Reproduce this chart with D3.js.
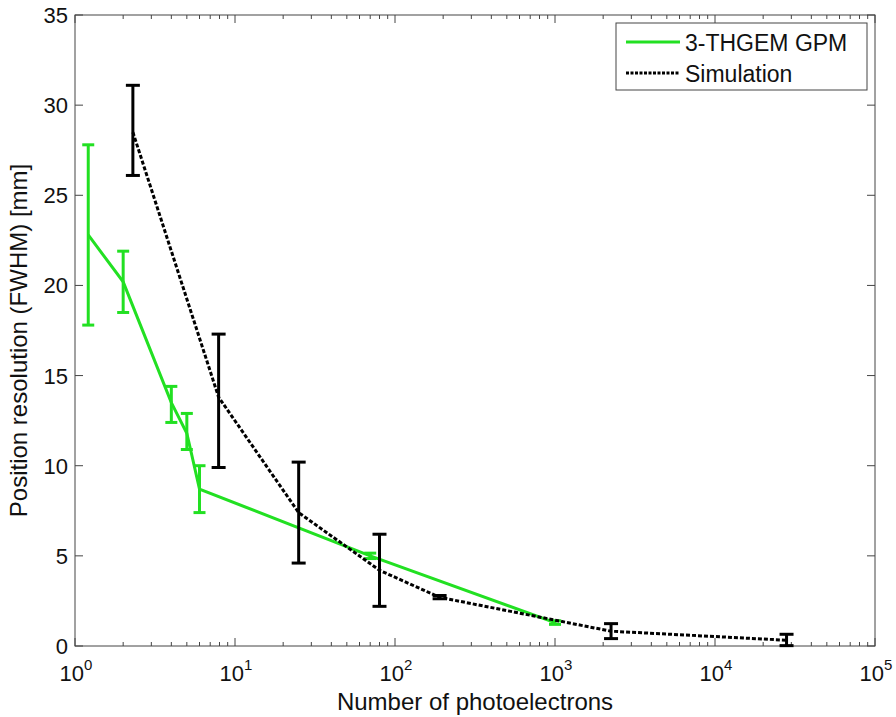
<!DOCTYPE html>
<html>
<head>
<meta charset="utf-8">
<script src="https://cdn.jsdelivr.net/npm/d3@7"></script>
<style>
  body { margin: 0; background: #fff; }
  text { font-family: "Liberation Sans", Arial, sans-serif; }
</style>
</head>
<body>
<div id="chart"></div>
<script>
// measured data
var gpmN   = [1.21, 2.0, 4.0, 5.0, 6.0, 70, 1000];
var gpmRes = [22.8, 20.2, 13.5, 11.8, 8.7, 5.0, 1.3];
var gpmLo  = [17.8, 18.5, 12.4, 10.9, 7.4, 4.85, 1.2];
var gpmHi  = [27.8, 21.9, 14.4, 12.9, 10.0, 5.15, 1.4];

// simulation
var simN   = [2.3, 7.9, 25, 80, 190, 2240, 28000];
var simRes = [28.5, 13.8, 7.4, 4.2, 2.7, 0.82, 0.32];
var simLo  = [26.1, 9.9, 4.6, 2.2, 2.62, 0.41, 0.02];
var simHi  = [31.1, 17.3, 10.2, 6.2, 2.8, 1.24, 0.65];

var yTicks = [0, 5, 10, 15, 20, 25, 30, 35];
var xDecades = [0, 1, 2, 3, 4, 5];

var margin = {top: 15, right: 21, bottom: 71, left: 75},
    width = 896 - margin.left - margin.right,
    height = 717 - margin.top - margin.bottom;

var svg = d3.select("#chart")
  .append("svg")
    .attr("width", 896)
    .attr("height", 717)
  .append("g")
    .attr("transform", "translate(" + margin.left + "," + margin.top + ")");

var x = d3.scaleLog().domain([1, 1e5]).range([0, width]);
var y = d3.scaleLinear().domain([0, 35]).range([height, 0]);

var axisColor = "#444";

// minor + major x ticks, bottom and top, pointing inward
var minorX = [];
for (var d = 0; d < 5; d++) {
  for (var m = 2; m <= 9; m++) minorX.push(m * Math.pow(10, d));
}
var majorX = xDecades.map(function(e) { return Math.pow(10, e); });

[[minorX, 4], [majorX, 8]].forEach(function(set) {
  svg.selectAll(null).data(set[0]).enter().append("line")
    .attr("x1", function(v) { return x(v); }).attr("x2", function(v) { return x(v); })
    .attr("y1", height).attr("y2", height - set[1])
    .attr("stroke", axisColor).attr("stroke-width", 1);
  svg.selectAll(null).data(set[0]).enter().append("line")
    .attr("x1", function(v) { return x(v); }).attr("x2", function(v) { return x(v); })
    .attr("y1", 0).attr("y2", set[1])
    .attr("stroke", axisColor).attr("stroke-width", 1);
});

// y ticks left and right
svg.selectAll(null).data(yTicks).enter().append("line")
  .attr("x1", 0).attr("x2", 8)
  .attr("y1", function(v) { return y(v); }).attr("y2", function(v) { return y(v); })
  .attr("stroke", axisColor);
svg.selectAll(null).data(yTicks).enter().append("line")
  .attr("x1", width).attr("x2", width - 8)
  .attr("y1", function(v) { return y(v); }).attr("y2", function(v) { return y(v); })
  .attr("stroke", axisColor);

// frame
svg.append("rect")
  .attr("width", width).attr("height", height)
  .attr("fill", "none").attr("stroke", axisColor).attr("stroke-width", 1);

// y tick labels
svg.selectAll(null).data(yTicks).enter().append("text")
  .attr("x", -7).attr("y", function(v) { return y(v) + 8; })
  .attr("text-anchor", "end").attr("font-size", 22).attr("fill", "#111")
  .text(function(v) { return v; });

// x tick labels 10^n
var xl = svg.selectAll(null).data(xDecades).enter().append("text")
  .attr("x", function(e) { return x(Math.pow(10, e)) + 1; })
  .attr("y", height + 35)
  .attr("text-anchor", "middle").attr("font-size", 22).attr("fill", "#111");
xl.append("tspan").text("10");
xl.append("tspan").attr("dy", -11).attr("font-size", 15).text(function(e) { return e; });

// axis titles
svg.append("text")
  .attr("x", width / 2).attr("y", height + 64)
  .attr("text-anchor", "middle").attr("font-size", 24).attr("fill", "#111")
  .text("Number of photoelectrons");
svg.append("text")
  .attr("transform", "translate(-48," + (height / 2 + 10) + ") rotate(-90)")
  .attr("text-anchor", "middle").attr("font-size", 24).attr("fill", "#111")
  .text("Position resolution (FWHM) [mm]");

var green = "#22e022";

function drawSeries(n, r, lo, hi, color, dash, cap) {
  var pts = n.map(function(v, i) { return [v, r[i], lo[i], hi[i]]; });
  var line = d3.line()
    .x(function(p) { return x(p[0]); })
    .y(function(p) { return y(p[1]); });
  svg.append("path")
    .datum(pts)
    .attr("d", line)
    .attr("fill", "none")
    .attr("stroke", color)
    .attr("stroke-width", 3)
    .attr("stroke-dasharray", dash);
  var eb = svg.selectAll(null).data(pts).enter().append("g")
    .attr("stroke", color).attr("stroke-width", 3);
  eb.append("line")
    .attr("x1", function(p) { return x(p[0]); }).attr("x2", function(p) { return x(p[0]); })
    .attr("y1", function(p) { return y(p[2]); }).attr("y2", function(p) { return y(p[3]); });
  eb.append("line")
    .attr("x1", function(p) { return x(p[0]) - cap; }).attr("x2", function(p) { return x(p[0]) + cap; })
    .attr("y1", function(p) { return y(p[2]); }).attr("y2", function(p) { return y(p[2]); });
  eb.append("line")
    .attr("x1", function(p) { return x(p[0]) - cap; }).attr("x2", function(p) { return x(p[0]) + cap; })
    .attr("y1", function(p) { return y(p[3]); }).attr("y2", function(p) { return y(p[3]); });
}

drawSeries(gpmN, gpmRes, gpmLo, gpmHi, green, null, 6);
drawSeries(simN, simRes, simLo, simHi, "#000", "4,2", 7);

// legend
var lg = svg.append("g").attr("transform", "translate(" + (616 - margin.left) + "," + (23 - margin.top) + ")");
lg.append("rect").attr("width", 251).attr("height", 67)
  .attr("fill", "#fff").attr("stroke", axisColor).attr("stroke-width", 1);
lg.append("line").attr("x1", 10).attr("x2", 64).attr("y1", 19).attr("y2", 19)
  .attr("stroke", green).attr("stroke-width", 3);
lg.append("text").attr("x", 69).attr("y", 28).attr("font-size", 23).attr("fill", "#111").text("3-THGEM GPM");
lg.append("line").attr("x1", 10).attr("x2", 64).attr("y1", 50).attr("y2", 50)
  .attr("stroke", "#000").attr("stroke-width", 3).attr("stroke-dasharray", "3,1.5");
lg.append("text").attr("x", 69).attr("y", 59).attr("font-size", 23).attr("fill", "#111").text("Simulation");
</script>
</body>
</html>
